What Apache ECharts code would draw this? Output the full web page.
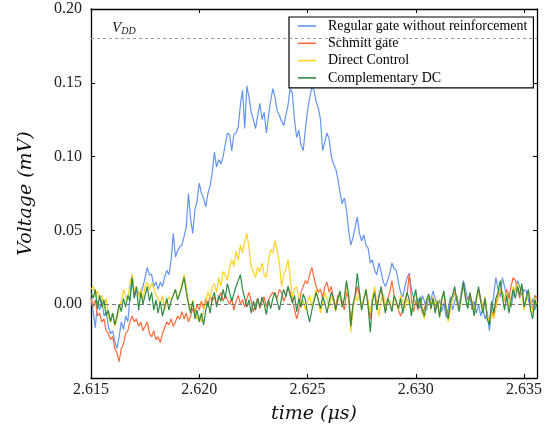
<!DOCTYPE html>
<html>
<head>
<meta charset="utf-8">
<script src="https://cdn.jsdelivr.net/npm/echarts@6/dist/echarts.min.js"></script>
<style>
  html, body { margin: 0; padding: 0; background: #fff; }
  #chart { width: 553px; height: 426px; }
</style>
</head>
<body>
<div id="chart"></div>
<script>
// sampling grid: 2.615 us, one sample every 0.0001 us
var T0 = 2.615;
var DT = 0.0001;

var seriesNames = ['Regular gate without reinforcement', 'Schmitt gate', 'Direct Control', 'Complementary DC'];

var regular = [
  0.005, -0.005, -0.016, 0.002, -0.004, 0.003, -0.008, -0.005, -0.015, -0.02,
  -0.018, -0.025, -0.03, -0.022, -0.012, -0.017, -0.008, -0.012, 0.005, 0.02,
  0.005, 0.01, 0.008, 0.006, 0.012, 0.018, 0.025, 0.02, 0.02, 0.012,
  0.015, 0.01, 0.015, 0.012, 0.018, 0.023, 0.02, 0.03, 0.048, 0.032,
  0.036, 0.039, 0.04, 0.046, 0.052, 0.075, 0.058, 0.048, 0.064, 0.07,
  0.082, 0.075, 0.072, 0.066, 0.075, 0.08, 0.089, 0.103, 0.093, 0.098,
  0.095, 0.1, 0.108, 0.116, 0.115, 0.104, 0.115, 0.116, 0.12, 0.135,
  0.145, 0.119, 0.148, 0.14, 0.13, 0.125, 0.119, 0.128, 0.136, 0.125,
  0.13, 0.116, 0.128, 0.138, 0.146, 0.14, 0.131, 0.128, 0.124, 0.121,
  0.128, 0.135, 0.146, 0.143, 0.125, 0.113, 0.118, 0.108, 0.104, 0.118,
  0.131, 0.14, 0.147, 0.145, 0.137, 0.133, 0.125, 0.104, 0.11, 0.116,
  0.112, 0.1, 0.095, 0.092, 0.085, 0.076, 0.068, 0.072, 0.064, 0.05,
  0.04, 0.045, 0.052, 0.059, 0.048, 0.043, 0.047, 0.04, 0.038, 0.028,
  0.03, 0.023, 0.02, 0.028, 0.022, 0.015, 0.012, 0.016, 0.021, 0.028,
  0.024, 0.023, 0.015, 0.008, 0.005, 0.012, 0.018, 0.021, 0.01, 0.004,
  0.001, 0.004, -0.003, 0.006, 0.002, -0.004, 0.005, 0.003, 0.009, 0.004,
  -0.002, 0.003, -0.005, 0.001, -0.009, -0.003, 0.005, -0.004, 0.002, 0.006,
  -0.002, 0.008, 0.016, 0.01, 0.003, 0.007, -0.004, 0.002, -0.006, 0.0,
  -0.008, -0.003, -0.01, -0.005, -0.018, -0.004, 0.006, 0.018, 0.01, 0.005,
  0.018, 0.012, 0.004, 0.008, -0.002, 0.006, 0.01, 0.016, 0.012, 0.006,
  0.01, 0.009, 0.003, -0.002, 0.004, -0.004, 0.002
];

var schmitt = [
  0.004, -0.002, 0.003, -0.008, -0.006, -0.012, -0.01, -0.018, -0.02, -0.024,
  -0.022, -0.03, -0.033, -0.039, -0.03, -0.027, -0.02, -0.018, -0.012, -0.008,
  -0.012, -0.01, -0.015, -0.012, -0.018, -0.015, -0.012, -0.02, -0.022, -0.018,
  -0.024, -0.022, -0.026, -0.02, -0.016, -0.012, -0.014, -0.01, -0.015, -0.012,
  -0.008, -0.01, -0.005, -0.01, -0.006, -0.012, -0.008, -0.003, -0.006, 0.0,
  -0.004, 0.002, -0.003, 0.004, -0.002, 0.006, 0.002, 0.005, 0.0, 0.004,
  0.008, 0.002, 0.006, 0.003, 0.0, 0.004, -0.004, 0.002, 0.006, 0.0,
  0.003, -0.002, 0.004, 0.008, 0.002, -0.005, 0.0, 0.004, -0.003, 0.002,
  0.005, -0.002, 0.003, 0.006, 0.008, 0.006, 0.004, 0.01, 0.008, 0.002,
  0.006, 0.012, 0.008, 0.003, -0.004, -0.01, -0.004, 0.008, 0.012, 0.016,
  0.014, 0.02, 0.025, 0.018, 0.012, 0.008, 0.01, 0.004, 0.012, 0.015,
  0.008, 0.012, 0.004, -0.002, 0.006, 0.006, 0.002, -0.004, 0.008, 0.004,
  -0.012, -0.002, 0.005, 0.012, 0.006, -0.003, 0.004, 0.008, 0.002, -0.01,
  0.004, 0.01, -0.002, 0.006, 0.01, 0.002, -0.005, 0.003, 0.008, 0.016,
  0.006, 0.001, -0.004, -0.008, -0.004, 0.002, 0.007, 0.02, 0.003, -0.005,
  0.002, -0.004, 0.004, -0.006, -0.003, 0.002, 0.006, -0.002, 0.005, -0.004,
  0.002, -0.008, 0.004, 0.008, -0.002, -0.008, -0.002, 0.004, 0.008, 0.003,
  -0.004, 0.006, 0.012, 0.005, -0.002, 0.006, 0.002, -0.005, 0.004, 0.01,
  0.004, -0.003, 0.005, -0.008, -0.012, -0.005, -0.008, 0.0, 0.006, 0.01,
  0.008, 0.002, 0.01, 0.004, 0.012, 0.018, 0.016, 0.01, 0.004, 0.012,
  -0.003, 0.004, 0.009, 0.002, -0.004, 0.006, 0.004
];

var direct = [
  0.01, 0.012, 0.005, 0.009, 0.002, 0.006, -0.003, 0.004, -0.008, -0.012,
  -0.006, -0.015, -0.01, -0.004, 0.002, 0.01, 0.005, 0.003, 0.015, 0.02,
  0.008, 0.012, 0.005, 0.01, 0.003, 0.012, 0.015, 0.01, 0.014, 0.011,
  0.006, 0.004, 0.0, 0.006, -0.004, 0.002, 0.005, 0.003, 0.006, 0.01,
  0.004, 0.008, 0.014, 0.02, 0.012, 0.002, -0.004, 0.003, -0.006, -0.01,
  -0.008, -0.012, -0.004, 0.002, 0.008, 0.004, 0.012, 0.014, 0.008, 0.018,
  0.012, 0.022, 0.02, 0.016, 0.025, 0.03, 0.026, 0.036, 0.03, 0.04,
  0.035, 0.042, 0.048, 0.038, 0.025, 0.022, 0.018, 0.025, 0.022, 0.028,
  0.02, 0.018, 0.03, 0.037, 0.035, 0.043, 0.036, 0.028, 0.012, 0.02,
  0.024, 0.03, 0.018, 0.005, 0.01, 0.012, 0.004, -0.002, 0.003, -0.004,
  0.002, 0.006, -0.002, 0.004, 0.01, 0.003, -0.006, 0.0, 0.008, 0.004,
  -0.003, 0.005, 0.002, -0.005, 0.003, 0.007, -0.002, 0.004, 0.012, 0.006,
  -0.019, -0.004, 0.006, 0.002, 0.008, -0.003, 0.004, 0.01, 0.001, -0.006,
  0.004, 0.012, 0.0, -0.008, 0.003, 0.007, -0.002, 0.004, 0.002, -0.003,
  0.005, 0.001, -0.004, 0.006, 0.002, -0.003, 0.004, 0.0, -0.006, 0.003,
  0.008, -0.002, 0.004, -0.005, -0.01, 0.002, 0.006, -0.004, 0.005, -0.002,
  0.003, -0.007, 0.002, 0.008, -0.003, -0.012, -0.004, 0.005, 0.01, 0.003,
  -0.004, 0.006, 0.012, 0.004, -0.002, 0.007, 0.001, -0.006, 0.003, 0.008,
  0.002, -0.004, 0.005, -0.008, -0.012, -0.006, -0.01, -0.003, 0.004, 0.01,
  0.006, 0.002, 0.008, -0.002, 0.004, 0.012, 0.009, 0.014, 0.006, 0.01,
  -0.004, 0.002, 0.008, 0.003, -0.006, 0.004, 0.0
];

var complementary = [
  0.008, 0.004, 0.01, -0.003, 0.006, -0.002, 0.003, -0.008, -0.004, -0.012,
  -0.006, -0.014, -0.008, 0.0, -0.005, 0.004, -0.002, 0.006, 0.002, 0.018,
  0.004, 0.012, -0.004, 0.008, 0.0, 0.006, 0.012, 0.002, 0.008, -0.004,
  0.003, -0.006, 0.002, -0.008, -0.002, 0.004, -0.004, 0.002, 0.006, 0.01,
  0.003, 0.007, 0.012, 0.018, 0.008, 0.0, -0.006, 0.002, -0.01, -0.004,
  -0.012, -0.006, -0.014, -0.004, 0.002, -0.006, 0.004, 0.008, -0.002, 0.006,
  0.002, 0.01, 0.004, 0.014, 0.008, 0.002, 0.007, 0.012, 0.016, 0.02,
  0.01, 0.004, -0.002, 0.003, -0.006, 0.002, -0.004, 0.004, -0.002, 0.005,
  0.0, -0.007, 0.003, -0.003, 0.004, 0.008, 0.002, -0.004, 0.004, 0.01,
  0.005, 0.012, 0.006, 0.001, 0.006, -0.005, 0.004, -0.002, 0.007, 0.003,
  -0.006, -0.012, -0.004, 0.002, 0.008, 0.003, -0.003, 0.005, 0.001, -0.006,
  0.002, 0.008, 0.004, -0.004, 0.003, 0.009, -0.002, 0.004, 0.016, 0.006,
  -0.015, 0.0, 0.006, 0.021, 0.008, -0.004, 0.003, 0.01, -0.002, -0.019,
  0.002, 0.008, -0.004, 0.005, 0.012, 0.003, -0.006, 0.004, 0.0, -0.005,
  0.006, 0.002, -0.003, 0.004, -0.006, 0.002, 0.008, 0.003, -0.008, 0.004,
  0.01, -0.003, 0.005, -0.004, -0.008, 0.003, 0.007, -0.003, 0.004, -0.006,
  0.002, -0.009, 0.003, 0.009, -0.004, -0.01, 0.002, 0.006, 0.012, 0.002,
  -0.005, 0.005, 0.015, 0.004, -0.003, 0.008, 0.0, -0.008, 0.004, 0.012,
  0.002, -0.006, 0.004, -0.01, -0.014, 0.002, -0.006, 0.004, 0.008, 0.016,
  0.005, -0.004, 0.006, -0.006, 0.002, 0.01, 0.004, 0.012, 0.006, 0.014,
  -0.002, 0.004, 0.01, -0.004, -0.01, 0.003, -0.002
];

var xTicks = [2.615, 2.620, 2.625, 2.630, 2.635];
var yTicks = [0.00, 0.05, 0.10, 0.15, 0.20];
var VDD = 0.18;

var colors = ['#6495ED', '#FF6A3D', '#FFD21F', '#2E8B45'];

function pairs(arr) {
  return arr.map(function (v, i) { return [T0 + i * DT, v]; });
}

var serif = '"Liberation Serif", "DejaVu Serif", serif';
var wideSerif = '"DejaVu Serif", serif';

var chart = echarts.init(document.getElementById('chart'));

var frameLine = { show: true, onZero: false, lineStyle: { color: '#000', width: 1.3 } };
var tickIn = { show: true, inside: true, length: 4, lineStyle: { color: '#000', width: 1 } };

var option = {
  animation: false,
  color: colors,
  grid: { left: 91, right: 16, top: 9, bottom: 48, outerBoundsMode: 'none' },
  legend: {
    orient: 'vertical',
    left: 289,
    top: 17,
    padding: [2, 6, 3, 9],
    icon: 'rect',
    itemWidth: 18,
    itemHeight: 1.6,
    itemGap: 3.3,
    backgroundColor: '#fff',
    borderColor: '#000',
    borderWidth: 1.2,
    textStyle: { fontFamily: serif, fontSize: 14, lineHeight: 14, color: '#000', padding: [0, 0, 0, 7] },
    data: seriesNames
  },
  xAxis: [{
    type: 'value',
    min: 2.615, max: 2.6356, interval: 0.005,
    name: 'time (\u03bcs)',
    nameLocation: 'middle',
    nameGap: 27,
    nameTextStyle: { fontFamily: wideSerif, fontStyle: 'italic', fontSize: 19, color: '#111' },
    axisLine: frameLine,
    axisTick: tickIn,
    splitLine: { show: false },
    axisLabel: {
      fontFamily: serif, fontSize: 16, color: '#222', margin: 4,
      formatter: function (v) {
        for (var k = 0; k < xTicks.length; k++) {
          if (Math.abs(v - xTicks[k]) < 1e-7) return xTicks[k].toFixed(3);
        }
        return '';
      }
    }
  }, {
    type: 'value', position: 'top',
    min: 2.615, max: 2.6356, interval: 0.005,
    axisLine: frameLine, axisTick: tickIn,
    axisLabel: { show: false }, splitLine: { show: false }
  }],
  yAxis: [{
    type: 'value',
    min: -0.05, max: 0.2, interval: 0.05,
    name: 'Voltage (mV)',
    nameLocation: 'middle',
    nameGap: 55,
    nameTextStyle: { fontFamily: wideSerif, fontStyle: 'italic', fontSize: 19, color: '#111' },
    axisLine: frameLine,
    axisTick: tickIn,
    splitLine: { show: false },
    axisLabel: {
      fontFamily: serif, fontSize: 16, color: '#222', margin: 9,
      formatter: function (v) {
        for (var k = 0; k < yTicks.length; k++) {
          if (Math.abs(v - yTicks[k]) < 1e-7) return yTicks[k].toFixed(2);
        }
        return '';
      }
    }
  }, {
    type: 'value', position: 'right',
    min: -0.05, max: 0.2, interval: 0.05,
    axisLine: frameLine, axisTick: tickIn,
    axisLabel: { show: false }, splitLine: { show: false }
  }],
  series: [
    {
      name: seriesNames[0], type: 'line', symbol: 'none', data: pairs(regular),
      lineStyle: { width: 1.2 },
      markLine: {
        silent: true, symbol: 'none',
        lineStyle: { color: '#999', type: [3, 3], width: 1.2 },
        label: {
          position: 'insideStartTop', distance: [21, 2],
          formatter: '{v|V}{s|DD}',
          rich: {
            v: { fontFamily: serif, fontStyle: 'italic', fontSize: 15, color: '#222' },
            s: { fontFamily: serif, fontStyle: 'italic', fontSize: 10, color: '#222', verticalAlign: 'bottom', padding: [6, 0, 0, 0] }
          }
        },
        data: [{ yAxis: VDD }]
      }
    },
    { name: seriesNames[1], type: 'line', symbol: 'none', data: pairs(schmitt), lineStyle: { width: 1.2 } },
    { name: seriesNames[2], type: 'line', symbol: 'none', data: pairs(direct), lineStyle: { width: 1.2 } },
    {
      name: seriesNames[3], type: 'line', symbol: 'none', data: pairs(complementary),
      lineStyle: { width: 1.2 },
      markLine: {
        silent: true, symbol: 'none',
        lineStyle: { color: '#777', type: [4, 3], width: 1 },
        label: { show: false },
        data: [{ yAxis: 0 }]
      }
    }
  ]
};

chart.setOption(option);
</script>
</body>
</html>
